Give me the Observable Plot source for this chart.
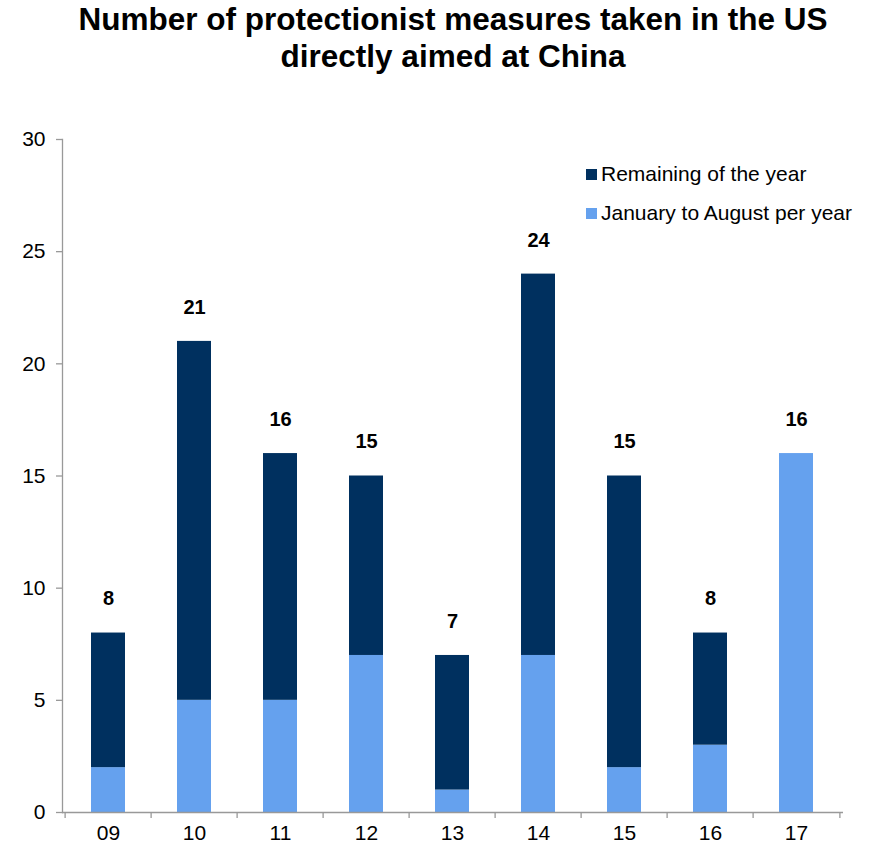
<!DOCTYPE html>
<html>
<head>
<meta charset="utf-8">
<script src="https://cdn.jsdelivr.net/npm/d3@7"></script>
<script src="https://cdn.jsdelivr.net/npm/@observablehq/plot@0.6"></script>
<style>
  body { margin: 0; background: #fff; font-family: "Liberation Sans", Arial, sans-serif; }
  #wrap { position: relative; width: 877px; height: 847px; overflow: hidden; }
  #title { position: absolute; left: 453px; top: 1px; transform: translateX(-50%); white-space: nowrap; text-align: center; font-weight: bold; font-size: 31.5px; line-height: 37px; color: #000; }
  #chart { position: absolute; left: 0; top: 80px; }
  .item { position: absolute; left: 586px; display: flex; align-items: center; height: 40px; font-size: 21px; color: #000; white-space: nowrap; }
  .sw { width: 11px; height: 11px; margin-right: 4px; }
</style>
</head>
<body>
<div id="wrap">
  <div id="title">Number of protectionist measures taken in the US<br>directly aimed at China</div>
  <div id="chart"></div>
</div>
<script>
const years = ["09", "10", "11", "12", "13", "14", "15", "16", "17"];
const janAug = [2, 5, 5, 7, 1, 7, 2, 3, 16];
const remaining = [6, 16, 11, 8, 6, 17, 13, 5, 0];
const seriesNames = ["January to August per year", "Remaining of the year"];
const seriesColors = ["#65A1EE", "#00305F"];
const yTicks = [0, 5, 10, 15, 20, 25, 30];

const data = [];
years.forEach((y, i) => {
  data.push({year: y, series: seriesNames[0], value: janAug[i]});
  data.push({year: y, series: seriesNames[1], value: remaining[i]});
});
const totals = years.map((y, i) => ({year: y, total: janAug[i] + remaining[i]}));

const W = 877, H = 767, ML = 62, MR = 34, MT = 59, MB = 35;
const step = (W - ML - MR) / years.length;
const tickLen = 6 * 30 / (H - MT - MB);

const plot = Plot.plot({
  width: W, height: H,
  marginLeft: ML, marginRight: MR, marginTop: MT, marginBottom: MB,
  style: {fontFamily: "'Liberation Sans', Arial, sans-serif", fontSize: "21px", color: "#000", background: "#fff", overflow: "visible"},
  x: {domain: years, paddingInner: 0.6, paddingOuter: 0.3, label: null},
  y: {domain: [0, 30], label: null},
  color: {domain: seriesNames, range: seriesColors},
  marks: [
    Plot.barY(data, {x: "year", y: "value", fill: "series", order: seriesNames}),
    Plot.frame({anchor: "left", stroke: "#999", strokeWidth: 1.3}),
    Plot.ruleY([0], {stroke: "#999", strokeWidth: 1.3}),
    Plot.axisY({ticks: yTicks, tickSize: 6, tickPadding: 11, stroke: "#999", strokeWidth: 1.3, fontSize: 21, label: null, tickFormat: d => d}),
    Plot.axisX({tickSize: 0, tickPadding: 13, fontSize: 21, label: null}),
    Plot.ruleX(years, {x: d => d, y1: 0, y2: -tickLen, dx: -step / 2, stroke: "#999", strokeWidth: 1.3, clip: false}),
    Plot.ruleX(years.slice(-1), {x: d => d, y1: 0, y2: -tickLen, dx: step / 2, stroke: "#999", strokeWidth: 1.3, clip: false}),
    Plot.text(totals, {x: "year", y: "total", text: d => String(d.total), dy: -34, fontWeight: "bold", fontSize: 20, fill: "#000"})
  ]
});
document.getElementById("chart").appendChild(plot);

const wrap = document.getElementById("wrap");
const legendTops = [154, 193];
[1, 0].forEach((i, k) => {
  const it = document.createElement("div");
  it.className = "item";
  it.style.top = legendTops[k] + "px";
  it.innerHTML = `<span class="sw" style="background:${seriesColors[i]}"></span><span>${seriesNames[i]}</span>`;
  wrap.appendChild(it);
});
</script>
</body>
</html>
